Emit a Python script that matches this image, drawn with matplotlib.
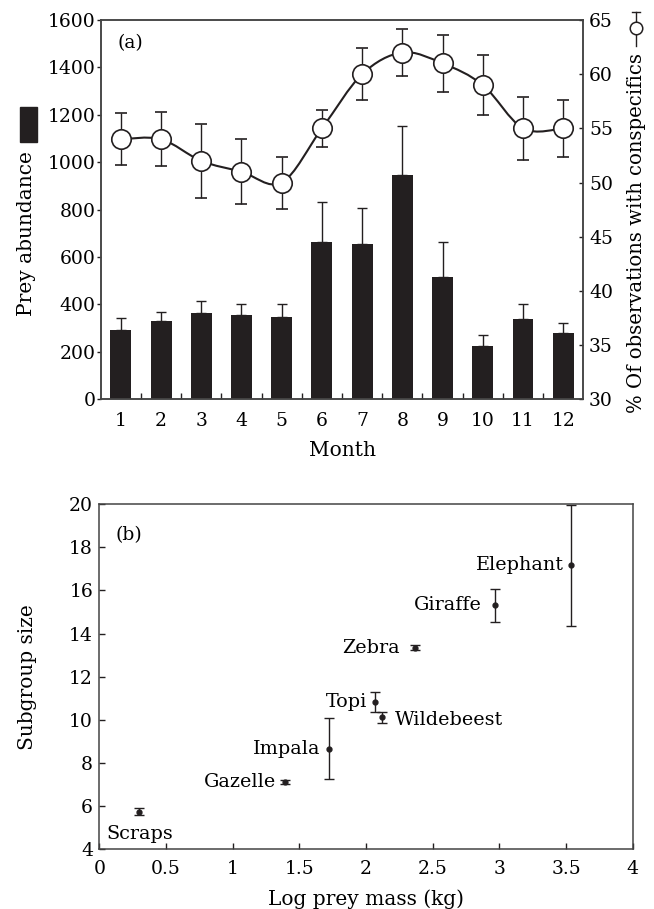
import numpy as np
import matplotlib
matplotlib.use('Agg')
import matplotlib.pyplot as plt
from matplotlib.path import Path
from matplotlib.patches import PathPatch, Rectangle
from matplotlib.lines import Line2D

plt.rcParams['font.family'] = ['DejaVu Serif']

INK = '#231f20'
TICK_FS = 13.5
LABEL_FS = 14.5

# Panel (a): monthly prey abundance (bars) and % observations with conspecifics (line)
months = np.arange(1, 13)
prey = [292, 331, 365, 356, 346, 665, 655, 945, 518, 226, 337, 278]
prey_err = [52, 36, 49, 48, 54, 168, 150, 208, 145, 46, 63, 45]
consp = [54, 54, 52, 51, 50, 55, 60, 62, 61, 59, 55, 55]
consp_err = [2.4, 2.5, 3.4, 3.0, 2.4, 1.7, 2.4, 2.2, 2.6, 2.8, 2.9, 2.6]

# Panel (b): subgroup size against log prey mass
species = ['Scraps', 'Gazelle', 'Impala', 'Topi', 'Wildebeest', 'Zebra', 'Giraffe', 'Elephant']
log_mass = [0.30, 1.39, 1.72, 2.07, 2.12, 2.37, 2.97, 3.54]
subgroup = [5.75, 7.13, 8.67, 10.82, 10.11, 13.35, 15.30, 17.17]
subgroup_err = [0.14, 0.10, 1.43, 0.45, 0.25, 0.11, 0.75, 2.80]


def smooth_path(x, y):
    # Catmull-Rom spline through the points, as cubic bezier segments
    pts = np.column_stack([x, y]).astype(float)
    n = len(pts)
    verts = [pts[0]]
    codes = [Path.MOVETO]
    for i in range(n - 1):
        p0 = pts[i - 1] if i > 0 else pts[i]
        p1, p2 = pts[i], pts[i + 1]
        p3 = pts[i + 2] if i + 2 < n else pts[i + 1]
        verts += [p1 + (p2 - p0) / 6, p2 - (p3 - p1) / 6, p2]
        codes += [Path.CURVE4] * 3
    return Path(verts, codes)


def style_spines(a):
    for s in a.spines.values():
        s.set_color('#444444')
        s.set_linewidth(1.1)


fig = plt.figure(figsize=(6.54, 9.09), dpi=100)

# ---- top panel ----
ax = fig.add_axes([0.154, 0.5607, 0.738, 0.4173])
ax.bar(months, prey, width=0.52, color=INK, zorder=2)
ax.errorbar(months, prey, yerr=[np.zeros(12), prey_err], fmt='none',
            ecolor=INK, elinewidth=1.0, capsize=3.5, capthick=1.0, zorder=1)
ax.set_xlim(0.5, 12.5)
ax.set_ylim(0, 1600)
ax.set_yticks(range(0, 1601, 200))
ax.set_xticks(months)
ax.set_xticks(months[:-1] + 0.5, minor=True)
ax.tick_params(axis='x', which='major', length=0, pad=9, labelsize=TICK_FS)
ax.tick_params(axis='x', which='minor', direction='in', length=4.5, width=1, color=INK)
ax.tick_params(axis='y', direction='out', length=3, width=1, pad=0.5,
               labelsize=TICK_FS, color=INK)
ax.set_xlabel('Month', fontsize=LABEL_FS, va='center')
ax.xaxis.set_label_coords(0.5, -0.134)
ax.text(0.035, 0.925, '(a)', transform=ax.transAxes, fontsize=TICK_FS)

ax2 = ax.twinx()
ax2.set_ylim(30, 65)
ax2.set_yticks(range(30, 66, 5))
ax2.tick_params(axis='y', direction='in', length=3, width=1, pad=4,
                labelsize=TICK_FS, color=INK)
ax2.add_patch(PathPatch(smooth_path(months, consp), fill=False, lw=1.5,
                        edgecolor=INK, zorder=2))
ax2.errorbar(months, consp, yerr=consp_err, fmt='o', ms=14, mfc='white',
             mec=INK, mew=1.2, ecolor=INK, elinewidth=1.0, capsize=4.5,
             capthick=1.0, zorder=3)
style_spines(ax)
style_spines(ax2)

# y-axis titles with their key symbols
fig.text(27 / 654, 1 - 234 / 909, 'Prey abundance', rotation=90,
         fontsize=LABEL_FS, ha='center', va='center')
fig.patches.append(Rectangle((20 / 654, 1 - 142 / 909), 17 / 654, 35 / 909,
                             transform=fig.transFigure, color=INK))
fig.text(637 / 654, 1 - 233 / 909, '% Of observations with conspecifics',
         rotation=90, fontsize=14.1, ha='center', va='center')
fig.lines.append(Line2D([636 / 654, 636 / 654], [1 - 12 / 909, 1 - 46 / 909],
                        transform=fig.transFigure, color=INK, lw=1.0))
fig.lines.append(Line2D([632 / 654, 640 / 654], [1 - 12 / 909, 1 - 12 / 909],
                        transform=fig.transFigure, color=INK, lw=1.0))
fig.lines.append(Line2D([636 / 654], [1 - 28 / 909], transform=fig.transFigure,
                        marker='o', ms=9, mfc='white', mec=INK, mew=1.1))

# ---- bottom panel ----
bx = fig.add_axes([0.1518, 0.0657, 0.8156, 0.3798])
bx.errorbar(log_mass, subgroup, yerr=subgroup_err, fmt='o', ms=3.5, color=INK,
            ecolor=INK, elinewidth=1.0, capsize=3.5, capthick=1.0)
bx.set_xlim(0, 4)
bx.set_ylim(4, 20)
bx.set_xticks(np.arange(0, 4.01, 0.5))
bx.set_xticklabels(['0', '0.5', '1', '1.5', '2', '2.5', '3', '3.5', '4'])
bx.set_yticks(range(4, 21, 2))
bx.tick_params(direction='in', length=4, width=1, labelsize=TICK_FS, color=INK)
bx.tick_params(axis='x', pad=7.5)
bx.tick_params(axis='y', pad=4.5)
style_spines(bx)
bx.set_xlabel('Log prey mass (kg)', fontsize=LABEL_FS, va='center')
bx.xaxis.set_label_coords(0.5, -0.144)
bx.set_ylabel('Subgroup size', fontsize=LABEL_FS, va='center')
bx.yaxis.set_label_coords(-0.1355, 0.5)
bx.text(0.03, 0.895, '(b)', transform=bx.transAxes, fontsize=TICK_FS)

offsets = {
    'Scraps': (0, -16, 'center'),
    'Gazelle': (-6, 0, 'right'),
    'Impala': (-6, 0, 'right'),
    'Topi': (-6, 0, 'right'),
    'Wildebeest': (9, -2, 'left'),
    'Zebra': (-11, 0, 'right'),
    'Giraffe': (-10, 0, 'right'),
    'Elephant': (-5, 0, 'right'),
}
for name, xv, yv in zip(species, log_mass, subgroup):
    dx, dy, ha = offsets[name]
    bx.annotate(name, (xv, yv), xytext=(dx, dy), textcoords='offset points',
                ha=ha, va='center', fontsize=13.8)

fig.savefig('out.png', dpi=100)
